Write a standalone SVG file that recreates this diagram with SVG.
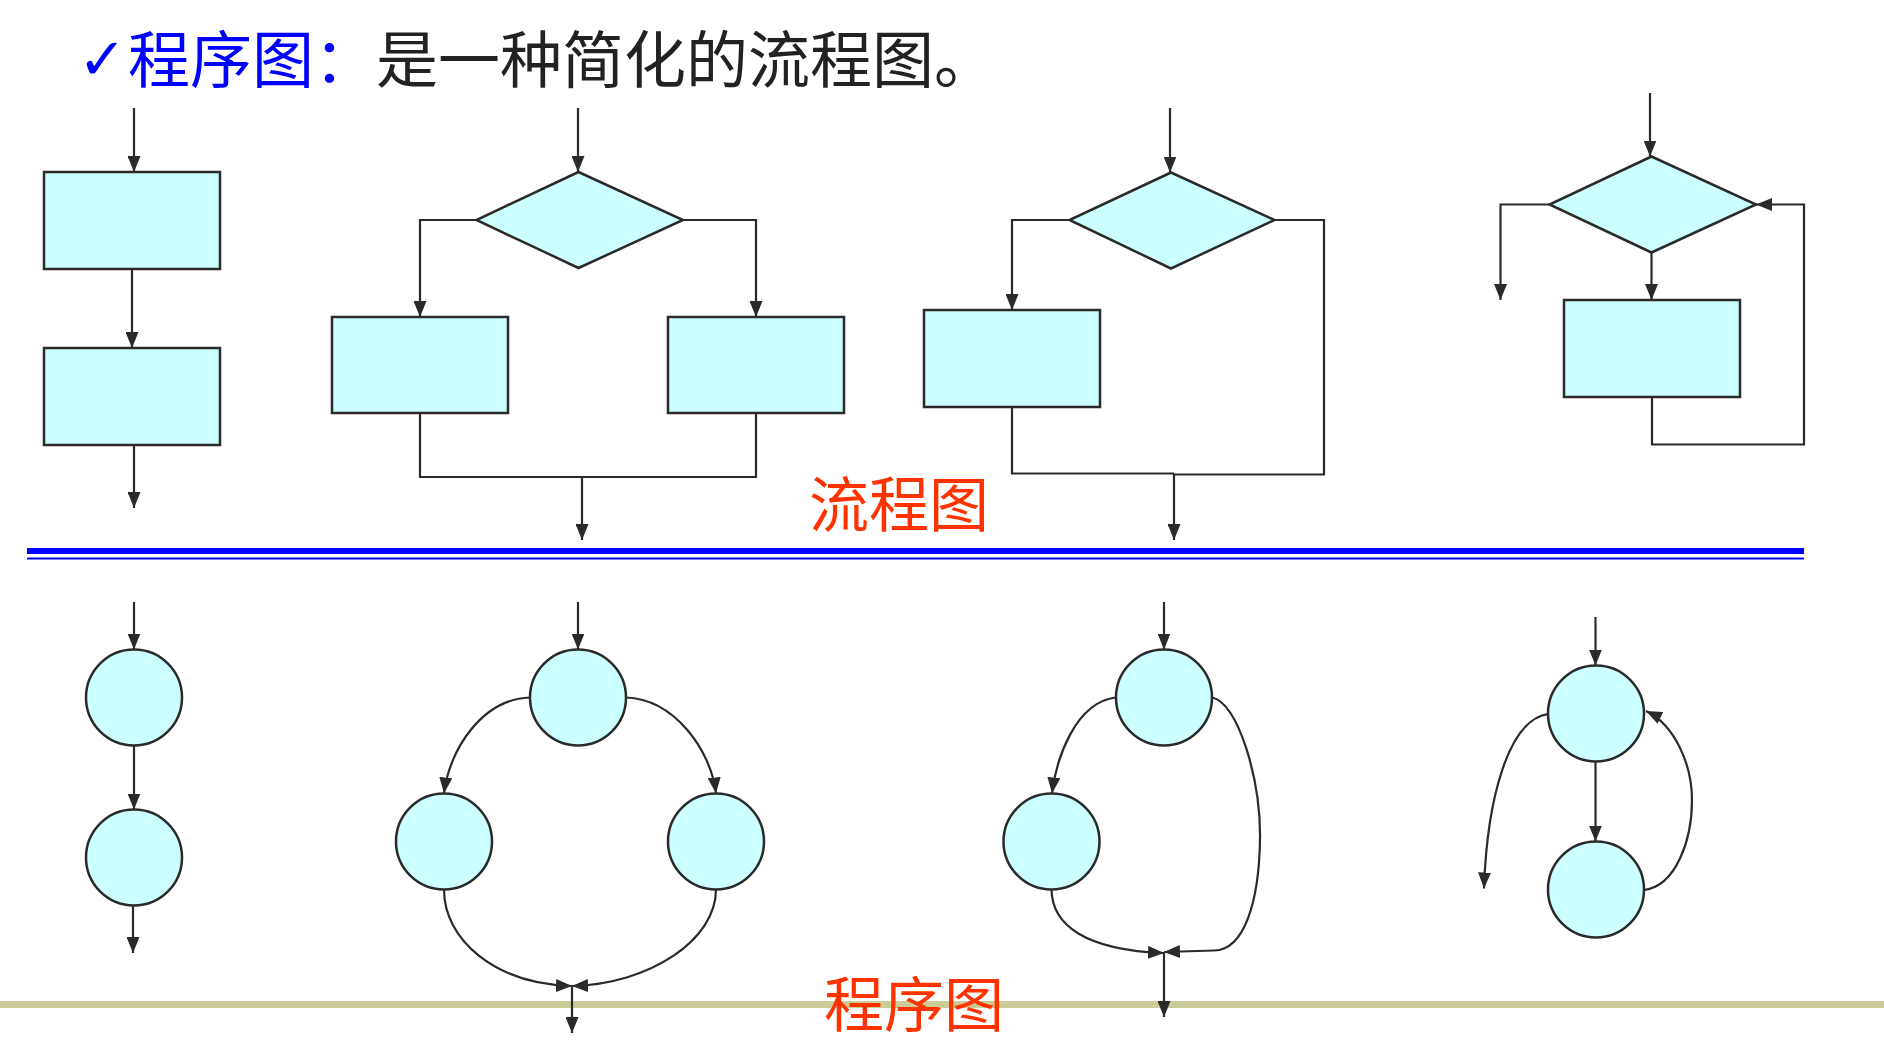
<svg xmlns="http://www.w3.org/2000/svg" width="1884" height="1057" viewBox="0 0 1884 1057">
<style>
.box{fill:#CCFFFF;stroke:#2a2a2a;stroke-width:2.5}
.ln{fill:none;stroke:#2a2a2a;stroke-width:2.2}
.arr{marker-end:url(#ah)}
.red{font-family:"Noto Sans CJK SC",sans-serif;font-size:60px;fill:#FF3300}
</style>
<defs>
<marker id="ah" markerUnits="userSpaceOnUse" markerWidth="16" markerHeight="13" refX="16" refY="6.5" orient="auto">
<path d="M0,0 L16,6.5 L0,13 z" fill="#2a2a2a"/>
</marker>
</defs>
<rect width="1884" height="1057" fill="#ffffff"/>
<g id="title">
<text x="78" y="79" font-family="DejaVu Sans,sans-serif" font-size="58" font-weight="bold" fill="#0000FF">✓</text>
<text x="128" y="83" font-family="Noto Sans CJK SC,sans-serif" font-size="62"><tspan fill="#0000FF">程序图：</tspan><tspan fill="#222222">是一种简化的流程图。</tspan></text>
</g>
<g id="dividers">
<rect x="27" y="548" width="1777" height="6" fill="#0000FF"/>
<rect x="27" y="557.5" width="1777" height="2" fill="#0000FF"/>
<rect x="0" y="1001" width="1884" height="7" fill="#CCCC99"/>
</g>
<g id="label-flow"><text class="red" x="809" y="527">流程图</text></g>
<g id="label-prog"><text class="red" x="824" y="1027">程序图</text></g>

<g id="f1-box1"><rect class="box" x="44" y="172" width="176" height="97"/></g>
<g id="f1-box2"><rect class="box" x="44" y="348" width="176" height="97"/></g>
<g id="f2-diamond"><polygon class="box" points="578.5,172 683,220 578.5,268 476.5,220"/></g>
<g id="f2-boxL"><rect class="box" x="332" y="317" width="176" height="96"/></g>
<g id="f2-boxR"><rect class="box" x="668" y="317" width="176" height="96"/></g>
<g id="f3-diamond"><polygon class="box" points="1171,172.5 1274.5,220 1171,268.5 1069.5,220"/></g>
<g id="f3-box"><rect class="box" x="924" y="310" width="176" height="97"/></g>
<g id="f4-diamond"><polygon class="box" points="1651.5,156.5 1756,204.5 1651.5,252.5 1549.5,204.5"/></g>
<g id="f4-box"><rect class="box" x="1564" y="300" width="176" height="97"/></g>

<g id="p1-n1"><ellipse class="box" cx="134" cy="697.5" rx="48" ry="48"/></g>
<g id="p1-n2"><ellipse class="box" cx="134" cy="857.5" rx="48" ry="48"/></g>
<g id="p2-top"><ellipse class="box" cx="578" cy="697.5" rx="48" ry="48"/></g>
<g id="p2-left"><ellipse class="box" cx="444" cy="841.5" rx="48" ry="48"/></g>
<g id="p2-right"><ellipse class="box" cx="716" cy="841.5" rx="48" ry="48"/></g>
<g id="p3-top"><ellipse class="box" cx="1164" cy="697.5" rx="48" ry="48"/></g>
<g id="p3-left"><ellipse class="box" cx="1051.5" cy="841.5" rx="48" ry="48"/></g>
<g id="p4-top"><ellipse class="box" cx="1596" cy="713.5" rx="48" ry="48"/></g>
<g id="p4-bottom"><ellipse class="box" cx="1596" cy="889.5" rx="48" ry="48"/></g>

<g id="connectors">
<!-- flowchart 1 -->
<path class="ln arr" d="M134,108 V172"/>
<path class="ln arr" d="M132,269 V348"/>
<path class="ln arr" d="M134,445 V508"/>
<!-- flowchart 2 -->
<path class="ln arr" d="M578,108 V172"/>
<path class="ln arr" d="M476.5,220 H420 V317"/>
<path class="ln arr" d="M683,220 H756 V317"/>
<path class="ln" d="M420,413 V477 H756 V413"/>
<path class="ln arr" d="M582,477 V540"/>
<!-- flowchart 3 -->
<path class="ln arr" d="M1170,108 V172.5"/>
<path class="ln arr" d="M1069.5,220 H1012 V310"/>
<path class="ln" d="M1274.5,220 H1324 V474.5 H1174"/>
<path class="ln" d="M1012,407 V473.5 H1174"/>
<path class="ln arr" d="M1174,474 V540"/>
<!-- flowchart 4 -->
<path class="ln arr" d="M1650,93 V156.5"/>
<path class="ln arr" d="M1549.5,204.5 H1500.5 V300"/>
<path class="ln arr" d="M1651.5,252.5 V300"/>
<path class="ln arr" d="M1652,397 V444.5 H1804 V204.5 H1756"/>
<!-- program graph 1 -->
<path class="ln arr" d="M134,602 V649.5"/>
<path class="ln arr" d="M134,745.5 V809.5"/>
<path class="ln arr" d="M133,905.5 V953"/>
<!-- program graph 2 -->
<path class="ln arr" d="M578,602 V649.5"/>
<path class="ln arr" d="M530,697.5 C482,699 449,750 444,793.5"/>
<path class="ln arr" d="M626,697.5 C674,699 711,750 716,793.5"/>
<path class="ln arr" d="M444,889.5 C444,940 495,984 572,986"/>
<path class="ln arr" d="M716,889.5 C716,940 650,984 572,986"/>
<path class="ln arr" d="M572,986 V1033"/>
<!-- program graph 3 -->
<path class="ln arr" d="M1164,602 V649.5"/>
<path class="ln arr" d="M1116,697.5 C1075,702 1056,760 1052,793.5"/>
<path class="ln arr" d="M1051.5,889.5 C1052,925 1085,950 1164,953"/>
<path class="ln arr" d="M1212,697.5 C1238,702 1261,780 1260,840 C1259,900 1245,950 1214,950.5 L1164,952"/>
<path class="ln arr" d="M1164,953 V1017"/>
<!-- program graph 4 -->
<path class="ln arr" d="M1595.5,617 V665.5"/>
<path class="ln arr" d="M1595.5,761.5 V841.5"/>
<path class="ln arr" d="M1548,714 C1508,720 1487,800 1484,888.5"/>
<path class="ln arr" d="M1644,890 C1676,886 1692,840 1692,800 C1692,765 1675,725 1646,711"/>
</g>
</svg>
